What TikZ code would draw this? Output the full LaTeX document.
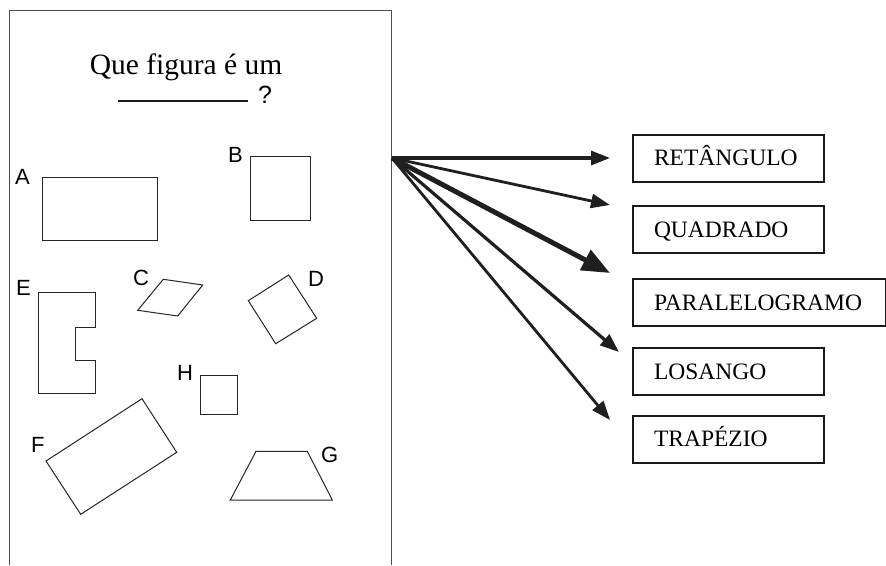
\documentclass[tikz,border=0pt]{standalone}
\usepackage{fontspec}
\setmainfont{Liberation Serif}
\newfontfamily\arialfont{Liberation Sans}
\usetikzlibrary{arrows.meta}

\begin{document}
\begin{tikzpicture}[x=1pt,y=-1pt,
  frame/.style={draw=black!70,line width=1.1pt},
  fig/.style={draw=black!85,line width=1pt,line join=miter},
  tag/.style={font=\arialfont\fontsize{22}{22}\selectfont,inner sep=0pt,anchor=base west},
  optbox/.style={draw=black!90,line width=2pt,anchor=north west,minimum height=47pt,
    inner xsep=21pt,inner ysep=0pt,text height=15pt,text depth=0pt,align=left,
    font=\fontsize{23.5}{23.5}\selectfont},
  link/.style={draw=black!88,line width=2.8pt,-{Triangle[length=19pt,width=14pt]}},
]
\useasboundingbox (0,0) rectangle (886,565);

% worksheet panel, open at the bottom
\draw[frame] (9.5,565) -- (9.5,10.3) -- (391.5,10.3) -- (391.5,565);

% question
\node[font=\fontsize{29.5}{29.5}\selectfont,anchor=base,inner sep=0pt] (title) at (186,74) {Que figura é um};
\draw[line width=1.9pt,black!90] (118,101) -- (248,101);
\node[tag,font=\arialfont\fontsize{25}{25}\selectfont] (qmark) at (258,103) {?};

% figures
\node[tag] (la) at (15,184) {A};
\draw[fig] (42,177) rectangle (157,240);

\node[tag] (lb) at (228,162) {B};
\draw[fig] (250,156) rectangle (310,220);

\node[tag] (le) at (16,295) {E};
\draw[fig] (38.3,292.7) -- (95,292.7) -- (95,327.3) -- (75,327.3) -- (75,360)
  -- (95,360) -- (95,393.3) -- (38.3,393.3) -- cycle;

\node[tag] (lc) at (133,285) {C};
\draw[fig] (163.3,279.3) -- (202.7,285) -- (177.7,316) -- (137.7,310.3) -- cycle;

\node[tag] (ld) at (308,286.7) {D};
\draw[fig] (248.3,300.7) -- (288.7,275) -- (316.7,318.3) -- (275.7,343.7) -- cycle;

\node[tag] (lh) at (177,380) {H};
\draw[fig] (200,375) rectangle (237.7,414.3);

\node[tag] (lf) at (31,452.7) {F};
\draw[fig] (46,461) -- (142,398.7) -- (176.7,452.3) -- (80.7,514.3) -- cycle;

\node[tag] (lg) at (321,462.7) {G};
\draw[fig] (256,451.3) -- (307.3,451.3) -- (332.3,500) -- (230.3,500) -- cycle;

% answer boxes
\node[optbox,text width=149pt] (ret) at (632,133.5) {RETÂNGULO};
\node[optbox,text width=149pt] (quad) at (632,205) {QUADRADO};
\node[optbox,text width=211pt] (para) at (632,278) {PARALELOGRAMO};
\node[optbox,text width=149pt] (los) at (632,347) {LOSANGO};
\node[optbox,text width=149pt] (trap) at (632,414.5) {TRAPÉZIO};

% arrows fanning out from the panel
\coordinate (src) at (392,158);
\coordinate (e1) at (610,158);
\coordinate (e2) at (610,205);
\coordinate (e3) at (610,273);
\coordinate (e4) at (619,352);
\coordinate (e5) at (610,420);
\draw[link,line width=3.2pt] (src) -- (e1);
\draw[link] (src) -- (e2);
\draw[link,line width=5pt,-{Triangle[length=28pt,width=22pt]}] (src) -- (e3);
\draw[link,line width=3.2pt] (src) -- (e4);
\draw[link] (src) -- (e5);
\end{tikzpicture}
\end{document}
